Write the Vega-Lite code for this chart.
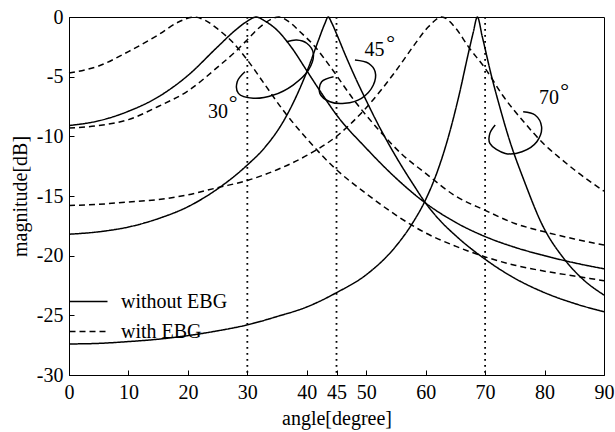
{
  "$schema": "https://vega.github.io/schema/vega-lite/v6.json",
  "autosize": {"type": "none"},
  "padding": {"left": 69, "top": 17, "right": 11, "bottom": 57},
  "width": 535,
  "height": 358,
  "background": "white",
  "config": {
    "view": {"stroke": "black", "strokeWidth": 1},
    "font": "Liberation Serif",
    "axis": {
      "grid": false,
      "labelFont": "Liberation Serif",
      "labelFontSize": 20,
      "labelColor": "black",
      "titleFont": "Liberation Serif",
      "titleFontSize": 20,
      "titleFontWeight": "normal",
      "titleColor": "black",
      "domainColor": "black",
      "domainWidth": 1,
      "tickColor": "black",
      "tickWidth": 1,
      "tickSize": -5,
      "labelFlush": false,
      "labelOverlap": false
    }
  },
  "layer": [
    {
      "data": {"values": [{"a": 30}, {"a": 45}, {"a": 70}]},
      "mark": {"type": "rule", "color": "black", "strokeWidth": 1.8, "strokeDash": [1.8, 4.2]},
      "encoding": {
        "x": {"field": "a", "type": "quantitative", "scale": {"domain": [0, 90]}}
      }
    },
    {
      "data": {"values": [
        {"s":"S30","t":"without EBG","a":0,"m":-9.1},{"s":"S30","t":"without EBG","a":5,"m":-8.7},{"s":"S30","t":"without EBG","a":10,"m":-7.9},{"s":"S30","t":"without EBG","a":15,"m":-6.7},{"s":"S30","t":"without EBG","a":20,"m":-4.9},{"s":"S30","t":"without EBG","a":25,"m":-2.5},{"s":"S30","t":"without EBG","a":28,"m":-1.1},{"s":"S30","t":"without EBG","a":30,"m":-0.35},{"s":"S30","t":"without EBG","a":31.5,"m":0},{"s":"S30","t":"without EBG","a":33,"m":-0.35},{"s":"S30","t":"without EBG","a":35,"m":-1.1},{"s":"S30","t":"without EBG","a":37.5,"m":-2.6},{"s":"S30","t":"without EBG","a":40,"m":-4.5},{"s":"S30","t":"without EBG","a":42.5,"m":-6.4},{"s":"S30","t":"without EBG","a":45,"m":-8.2},{"s":"S30","t":"without EBG","a":50,"m":-11.0},{"s":"S30","t":"without EBG","a":55,"m":-13.5},{"s":"S30","t":"without EBG","a":60,"m":-15.6},{"s":"S30","t":"without EBG","a":65,"m":-17.2},{"s":"S30","t":"without EBG","a":70,"m":-18.4},{"s":"S30","t":"without EBG","a":75,"m":-19.3},{"s":"S30","t":"without EBG","a":80,"m":-20.0},{"s":"S30","t":"without EBG","a":85,"m":-20.6},{"s":"S30","t":"without EBG","a":90,"m":-21.1},
        {"s":"S45","t":"without EBG","a":0,"m":-18.2},{"s":"S45","t":"without EBG","a":5,"m":-18.0},{"s":"S45","t":"without EBG","a":10,"m":-17.6},{"s":"S45","t":"without EBG","a":15,"m":-16.9},{"s":"S45","t":"without EBG","a":20,"m":-15.9},{"s":"S45","t":"without EBG","a":25,"m":-14.4},{"s":"S45","t":"without EBG","a":30,"m":-12.4},{"s":"S45","t":"without EBG","a":33,"m":-10.9},{"s":"S45","t":"without EBG","a":36,"m":-8.8},{"s":"S45","t":"without EBG","a":38,"m":-6.9},{"s":"S45","t":"without EBG","a":40,"m":-4.6},{"s":"S45","t":"without EBG","a":42,"m":-1.9},{"s":"S45","t":"without EBG","a":43,"m":-0.6},{"s":"S45","t":"without EBG","a":43.6,"m":0},{"s":"S45","t":"without EBG","a":44.2,"m":-0.5},{"s":"S45","t":"without EBG","a":45,"m":-1.4},{"s":"S45","t":"without EBG","a":46.5,"m":-3.2},{"s":"S45","t":"without EBG","a":48,"m":-4.9},{"s":"S45","t":"without EBG","a":50,"m":-7.0},{"s":"S45","t":"without EBG","a":52,"m":-9.0},{"s":"S45","t":"without EBG","a":55,"m":-11.7},{"s":"S45","t":"without EBG","a":58,"m":-14.1},{"s":"S45","t":"without EBG","a":60,"m":-15.6},{"s":"S45","t":"without EBG","a":62.5,"m":-17.1},{"s":"S45","t":"without EBG","a":65,"m":-18.3},{"s":"S45","t":"without EBG","a":70,"m":-20.3},{"s":"S45","t":"without EBG","a":75,"m":-21.9},{"s":"S45","t":"without EBG","a":80,"m":-23.1},{"s":"S45","t":"without EBG","a":85,"m":-24.0},{"s":"S45","t":"without EBG","a":90,"m":-24.7},
        {"s":"S70","t":"without EBG","a":0,"m":-27.4},{"s":"S70","t":"without EBG","a":5,"m":-27.35},{"s":"S70","t":"without EBG","a":10,"m":-27.2},{"s":"S70","t":"without EBG","a":15,"m":-27.0},{"s":"S70","t":"without EBG","a":20,"m":-26.7},{"s":"S70","t":"without EBG","a":25,"m":-26.3},{"s":"S70","t":"without EBG","a":30,"m":-25.8},{"s":"S70","t":"without EBG","a":35,"m":-25.1},{"s":"S70","t":"without EBG","a":40,"m":-24.3},{"s":"S70","t":"without EBG","a":45,"m":-23.1},{"s":"S70","t":"without EBG","a":50,"m":-21.6},{"s":"S70","t":"without EBG","a":55,"m":-19.2},{"s":"S70","t":"without EBG","a":57.5,"m":-17.5},{"s":"S70","t":"without EBG","a":60,"m":-15.3},{"s":"S70","t":"without EBG","a":62,"m":-12.9},{"s":"S70","t":"without EBG","a":63.5,"m":-10.6},{"s":"S70","t":"without EBG","a":65.5,"m":-6.8},{"s":"S70","t":"without EBG","a":67.2,"m":-3.0},{"s":"S70","t":"without EBG","a":68,"m":-1.3},{"s":"S70","t":"without EBG","a":68.7,"m":0},{"s":"S70","t":"without EBG","a":69.5,"m":-1.6},{"s":"S70","t":"without EBG","a":71.1,"m":-5.0},{"s":"S70","t":"without EBG","a":72.5,"m":-7.6},{"s":"S70","t":"without EBG","a":73.9,"m":-10.0},{"s":"S70","t":"without EBG","a":76.7,"m":-13.9},{"s":"S70","t":"without EBG","a":79.5,"m":-17.3},{"s":"S70","t":"without EBG","a":83.5,"m":-20.4},{"s":"S70","t":"without EBG","a":86.5,"m":-22.0},{"s":"S70","t":"without EBG","a":90,"m":-23.3},
        {"s":"D30","t":"with EBG","a":0,"m":-4.7},{"s":"D30","t":"with EBG","a":5,"m":-4.1},{"s":"D30","t":"with EBG","a":10,"m":-2.9},{"s":"D30","t":"with EBG","a":15,"m":-1.5},{"s":"D30","t":"with EBG","a":18.5,"m":-0.4},{"s":"D30","t":"with EBG","a":21,"m":0},{"s":"D30","t":"with EBG","a":23,"m":-0.3},{"s":"D30","t":"with EBG","a":25,"m":-1.0},{"s":"D30","t":"with EBG","a":27.5,"m":-2.1},{"s":"D30","t":"with EBG","a":30,"m":-3.6},{"s":"D30","t":"with EBG","a":33,"m":-5.7},{"s":"D30","t":"with EBG","a":36,"m":-7.8},{"s":"D30","t":"with EBG","a":40,"m":-10.2},{"s":"D30","t":"with EBG","a":45,"m":-12.8},{"s":"D30","t":"with EBG","a":50,"m":-14.8},{"s":"D30","t":"with EBG","a":55,"m":-16.6},{"s":"D30","t":"with EBG","a":60,"m":-18.1},{"s":"D30","t":"with EBG","a":65,"m":-19.2},{"s":"D30","t":"with EBG","a":70,"m":-20.1},{"s":"D30","t":"with EBG","a":75,"m":-20.8},{"s":"D30","t":"with EBG","a":80,"m":-21.3},{"s":"D30","t":"with EBG","a":85,"m":-21.7},{"s":"D30","t":"with EBG","a":90,"m":-22.1},
        {"s":"D45","t":"with EBG","a":0,"m":-9.3},{"s":"D45","t":"with EBG","a":5,"m":-9.1},{"s":"D45","t":"with EBG","a":10,"m":-8.6},{"s":"D45","t":"with EBG","a":15,"m":-7.5},{"s":"D45","t":"with EBG","a":20,"m":-6.2},{"s":"D45","t":"with EBG","a":25,"m":-4.2},{"s":"D45","t":"with EBG","a":28,"m":-2.9},{"s":"D45","t":"with EBG","a":30,"m":-1.9},{"s":"D45","t":"with EBG","a":32,"m":-0.9},{"s":"D45","t":"with EBG","a":35.3,"m":0},{"s":"D45","t":"with EBG","a":37,"m":-0.4},{"s":"D45","t":"with EBG","a":39,"m":-1.3},{"s":"D45","t":"with EBG","a":41.4,"m":-2.5},{"s":"D45","t":"with EBG","a":44,"m":-4.2},{"s":"D45","t":"with EBG","a":48,"m":-7.0},{"s":"D45","t":"with EBG","a":52,"m":-9.4},{"s":"D45","t":"with EBG","a":56,"m":-11.5},{"s":"D45","t":"with EBG","a":60,"m":-13.1},{"s":"D45","t":"with EBG","a":65,"m":-15.0},{"s":"D45","t":"with EBG","a":70,"m":-16.2},{"s":"D45","t":"with EBG","a":75,"m":-17.3},{"s":"D45","t":"with EBG","a":80,"m":-18.0},{"s":"D45","t":"with EBG","a":85,"m":-18.6},{"s":"D45","t":"with EBG","a":90,"m":-19.1},
        {"s":"D70","t":"with EBG","a":0,"m":-15.8},{"s":"D70","t":"with EBG","a":5,"m":-15.7},{"s":"D70","t":"with EBG","a":10,"m":-15.5},{"s":"D70","t":"with EBG","a":15,"m":-15.3},{"s":"D70","t":"with EBG","a":20,"m":-14.9},{"s":"D70","t":"with EBG","a":25,"m":-14.3},{"s":"D70","t":"with EBG","a":30,"m":-13.7},{"s":"D70","t":"with EBG","a":35,"m":-12.8},{"s":"D70","t":"with EBG","a":40,"m":-11.6},{"s":"D70","t":"with EBG","a":45,"m":-10.0},{"s":"D70","t":"with EBG","a":50,"m":-7.6},{"s":"D70","t":"with EBG","a":55,"m":-4.5},{"s":"D70","t":"with EBG","a":58,"m":-2.4},{"s":"D70","t":"with EBG","a":60.5,"m":-0.8},{"s":"D70","t":"with EBG","a":62.7,"m":0},{"s":"D70","t":"with EBG","a":65,"m":-0.9},{"s":"D70","t":"with EBG","a":67.2,"m":-2.5},{"s":"D70","t":"with EBG","a":70,"m":-4.3},{"s":"D70","t":"with EBG","a":73,"m":-6.6},{"s":"D70","t":"with EBG","a":76.7,"m":-8.9},{"s":"D70","t":"with EBG","a":80,"m":-10.7},{"s":"D70","t":"with EBG","a":82.3,"m":-11.7},{"s":"D70","t":"with EBG","a":85,"m":-12.8},{"s":"D70","t":"with EBG","a":90,"m":-14.6}
      ]},
      "mark": {"type": "line", "color": "black", "strokeWidth": 1.5, "interpolate": "monotone"},
      "encoding": {
        "x": {"field": "a", "type": "quantitative", "scale": {"domain": [0, 90]},
              "axis": {"title": "angle[degree]", "values": [0,10,20,30,40,45,50,60,70,80,90], "labelPadding": 12, "titlePadding": 6}},
        "y": {"field": "m", "type": "quantitative", "scale": {"domain": [-30, 0]},
              "axis": {"title": "magnitude[dB]", "values": [-30,-25,-20,-15,-10,-5,0], "labelExpr": "'' + datum.value", "labelPadding": 11, "titlePadding": 6}},
        "detail": {"field": "s"},
        "strokeDash": {"field": "t", "type": "nominal",
          "scale": {"domain": ["without EBG", "with EBG"], "range": [[1, 0], [6, 4]]},
          "legend": {"orient": "none", "legendX": 9, "legendY": 274, "title": null,
            "symbolType": "M-2,0H2", "symbolSize": 361, "symbolStrokeWidth": 1.5,
            "symbolStrokeColor": "black", "symbolFillColor": "transparent",
            "labelFont": "Liberation Serif", "labelFontSize": 20, "labelColor": "black",
            "labelOffset": 22, "rowPadding": 9, "padding": 0}}
      }
    },
    {
      "data": {"values": [
        {"l":"L30","o":1,"a":29.6,"m":-4.59},{"l":"L30","o":2,"a":28.3,"m":-5.42},{"l":"L30","o":3,"a":28.5,"m":-6.40},{"l":"L30","o":4,"a":31.0,"m":-6.81},{"l":"L30","o":5,"a":34.4,"m":-6.54},{"l":"L30","o":6,"a":37.7,"m":-5.70},{"l":"L30","o":7,"a":40.3,"m":-4.44},{"l":"L30","o":8,"a":41.1,"m":-3.04},{"l":"L30","o":9,"a":40.0,"m":-2.20},{"l":"L30","o":10,"a":38.3,"m":-1.93},{"l":"L30","o":11,"a":36.6,"m":-2.07},
        {"l":"L45","o":1,"a":44.5,"m":-5.0},{"l":"L45","o":2,"a":42.5,"m":-5.42},{"l":"L45","o":3,"a":42.2,"m":-6.40},{"l":"L45","o":4,"a":43.9,"m":-7.10},{"l":"L45","o":5,"a":46.4,"m":-7.23},{"l":"L45","o":6,"a":49.2,"m":-6.81},{"l":"L45","o":7,"a":51.2,"m":-5.70},{"l":"L45","o":8,"a":51.5,"m":-4.59},{"l":"L45","o":9,"a":50.4,"m":-3.88},{"l":"L45","o":10,"a":48.1,"m":-3.60},
        {"l":"L70","o":1,"a":71.7,"m":-9.05},{"l":"L70","o":2,"a":70.8,"m":-9.75},{"l":"L70","o":3,"a":70.8,"m":-10.59},{"l":"L70","o":4,"a":73.4,"m":-11.43},{"l":"L70","o":5,"a":76.2,"m":-11.29},{"l":"L70","o":6,"a":78.7,"m":-10.45},{"l":"L70","o":7,"a":79.5,"m":-9.20},{"l":"L70","o":8,"a":78.4,"m":-8.21},{"l":"L70","o":9,"a":76.4,"m":-7.94}
      ]},
      "mark": {"type": "line", "color": "black", "strokeWidth": 1.5, "interpolate": "catmull-rom"},
      "encoding": {
        "x": {"field": "a", "type": "quantitative"},
        "y": {"field": "m", "type": "quantitative"},
        "detail": {"field": "l"},
        "order": {"field": "o", "type": "quantitative"}
      }
    },
    {
      "data": {"values": [
        {"a": 25.07, "m": -7.96, "txt": "30"},
        {"a": 51.4, "m": -2.77, "txt": "45"},
        {"a": 80.75, "m": -6.82, "txt": "70"}
      ]},
      "mark": {"type": "text", "font": "Liberation Serif", "fontSize": 20, "color": "black", "align": "center", "baseline": "middle"},
      "encoding": {
        "x": {"field": "a", "type": "quantitative"},
        "y": {"field": "m", "type": "quantitative"},
        "text": {"field": "txt"}
      }
    },
    {
      "data": {"values": [
        {"a": 27.6, "m": -6.7, "txt": "°"},
        {"a": 54.1, "m": -1.65, "txt": "°"},
        {"a": 83.4, "m": -5.70, "txt": "°"}
      ]},
      "mark": {"type": "text", "font": "Liberation Serif", "fontSize": 22, "color": "black", "align": "center", "baseline": "middle", "dy": 6},
      "encoding": {
        "x": {"field": "a", "type": "quantitative"},
        "y": {"field": "m", "type": "quantitative"},
        "text": {"field": "txt"}
      }
    }
  ]
}
